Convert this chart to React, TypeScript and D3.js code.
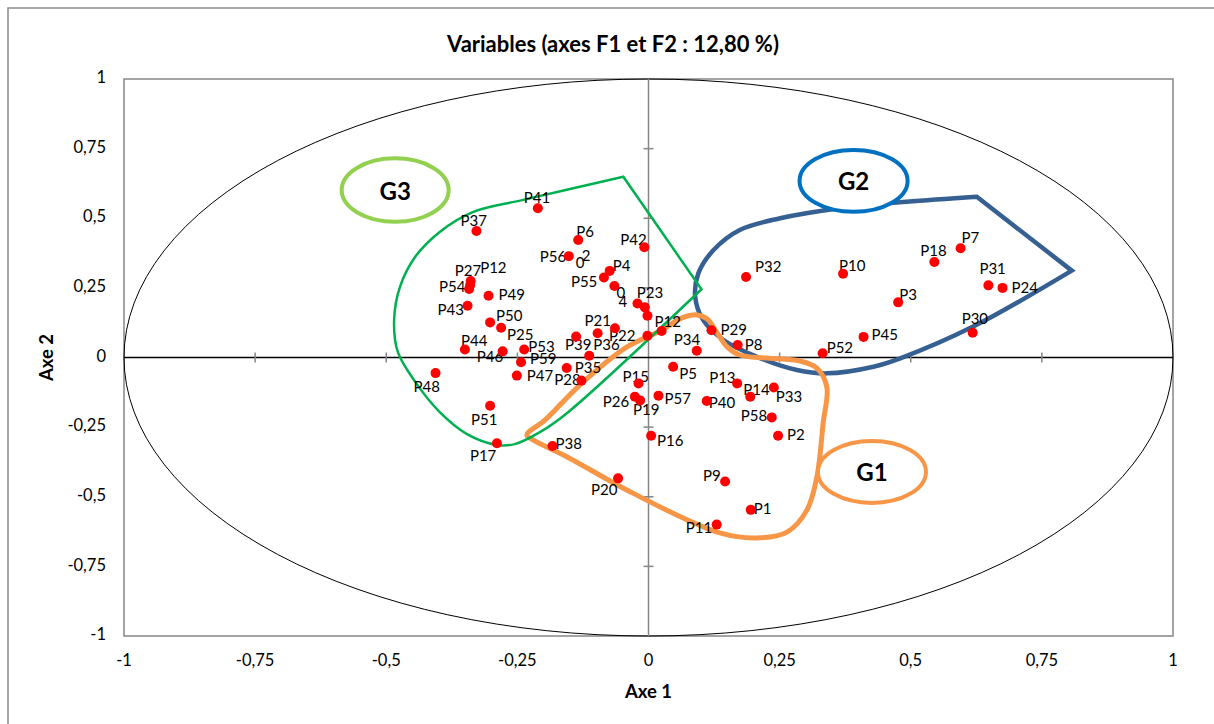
import React from "react";
import * as d3 from "d3";

// ---------- DATA ----------
const pointIds = [
  "P1","P2","P3","P4","P5","P6","P7","P8","P9","P10",
  "P11","P12a","P13","P14","P15","P16","P17","P18","P19","P20",
  "P21","P22","P23","P24","P25","P26","P27","P28","P29","P30",
  "P31","P32","P33","P34","P35","P36","P37","P38","P39","P40",
  "P41","P42","P43","P44","P45","P46","P47","P48","P49","P50",
  "P51","P52","P53","P54","P55","P56","P57","P58","P59",
  "X1","X2","X3","X4","P12b",
];
const pointLabels = [
  "P1","P2","P3","P4","P5","P6","P7","P8","P9","P10",
  "P11","P12","P13","P14","P15","P16","P17","P18","P19","P20",
  "P21","P22","P23","P24","P25","P26","P27","P28","P29","P30",
  "P31","P32","P33","P34","P35","P36","P37","P38","P39","P40",
  "P41","P42","P43","P44","P45","P46","P47","P48","P49","P50",
  "P51","P52","P53","P54","P55","P56","P57","P58","P59",
  "","","","","P12",
];
const f1Values = [
  0.195, 0.247, 0.476, -0.074, 0.047, -0.134, 0.595, 0.170, 0.146, 0.371,
  0.130, -0.340, 0.169, 0.194, -0.019, 0.005, -0.289, 0.545, -0.016, -0.058,
  -0.097, -0.064, -0.007, 0.675, -0.281, -0.026, -0.339, -0.128, 0.120, 0.618,
  0.648, 0.186, 0.239, 0.092, -0.156, -0.113, -0.328, -0.183, -0.138, 0.111,
  -0.211, -0.008, -0.345, -0.350, 0.410, -0.278, -0.251, -0.406, -0.305, -0.302,
  -0.302, 0.332, -0.237, -0.342, -0.085, -0.152, 0.019, 0.235, -0.243,
  -0.065, -0.021, -0.002, -0.002, 0.025,
];
const f2Values = [
  -0.547, -0.281, 0.198, 0.311, -0.033, 0.422, 0.392, 0.045, -0.445, 0.301,
  -0.600, 0.260, -0.093, -0.141, -0.093, -0.281, -0.308, 0.343, -0.154, -0.434,
  0.087, 0.105, 0.180, 0.250, 0.107, -0.141, 0.275, -0.083, 0.098, 0.089,
  0.259, 0.289, -0.108, 0.024, -0.038, 0.006, 0.454, -0.318, 0.075, -0.156,
  0.536, 0.396, 0.186, 0.029, 0.074, 0.022, -0.065, -0.056, 0.222, 0.126,
  -0.173, 0.015, 0.029, 0.246, 0.287, 0.364, -0.137, -0.215, -0.017,
  0.257, 0.194, 0.150, 0.078, 0.095,
];
// stray partial labels visible in the picture (text, anchor point id)
const fragmentTexts = ["2", "0", "0", "4"];
const fragmentAnchors = ["P56", "P56", "X1", "X1"];

const tickValues = [-1, -0.75, -0.5, -0.25, 0, 0.25, 0.5, 0.75, 1];
const chartTitle = "Variables (axes F1 et F2 : 12,80 %)";
const xTitle = "Axe 1";
const yTitle = "Axe 2";

// group outlines (in F1/F2 units)
const g1Outline: [number, number][] = [
  [-0.232, -0.278], [-0.197, -0.224], [-0.131, -0.099], [-0.041, 0.038], [0.022, 0.095],
  [0.064, 0.142], [0.092, 0.153], [0.112, 0.138], [0.131, 0.088], [0.150, 0.038],
  [0.174, 0.009], [0.226, -0.002], [0.289, -0.013], [0.321, -0.038], [0.340, -0.106],
  [0.333, -0.235], [0.321, -0.429], [0.302, -0.548], [0.264, -0.627], [0.207, -0.648],
  [0.136, -0.630], [-0.030, -0.487], [-0.155, -0.357], [-0.220, -0.296],
];
const g2Outline: [number, number][] = [
  [0.807, 0.312], [0.619, 0.111], [0.480, -0.003], [0.429, -0.033], [0.340, -0.057],
  [0.283, -0.045], [0.206, 0.003], [0.143, 0.063], [0.104, 0.135], [0.089, 0.218],
  [0.095, 0.302], [0.124, 0.386], [0.174, 0.458], [0.251, 0.500], [0.365, 0.536],
  [0.492, 0.559], [0.626, 0.577],
];
const g3Outline: [number, number][] = [
  [-0.048, 0.649], [-0.239, 0.566], [-0.335, 0.522], [-0.398, 0.451], [-0.445, 0.361],
  [-0.474, 0.253], [-0.485, 0.135], [-0.478, 0.020], [-0.443, -0.092], [-0.398, -0.196],
  [-0.346, -0.275], [-0.289, -0.314], [-0.255, -0.311], [-0.207, -0.268], [-0.155, -0.199],
  [0.101, 0.245],
];
const groupNames = ["G1", "G2", "G3"];
const groupBadgeCenters: [number, number][] = [[0.426, -0.411], [0.391, 0.634], [-0.483, 0.601]];
const groupBadgeRadii: [number, number][] = [[0.103, 0.111], [0.103, 0.111], [0.102, 0.114]];

// ---------- LAYOUT (label offsets in px: text start dx, baseline dy) ----------
const labelOffsets: Record<string, [number, number]> = {
  P1: [3, 4], P2: [9, 4], P3: [1, -2], P4: [3, 0], P5: [6, 12], P6: [-2, -3],
  P7: [1, -5], P8: [7, 5], P9: [-22, 0], P10: [-4, -3], P11: [-31, 8], P12a: [10, -12],
  P13: [-28, 0], P14: [-7, -2], P15: [-16, -1], P16: [6, 10], P17: [-27, 18], P18: [-14, -6],
  P19: [-7, 15], P20: [-27, 17], P21: [-13, -7], P22: [-6, 13], P23: [-8, -9], P24: [9, 5],
  P25: [6, 12], P26: [-32, 10], P27: [-16, -5], P28: [-27, 4], P29: [9, 5], P30: [-11, -9],
  P31: [-9, -11], P32: [9, -5], P33: [2, 14], P34: [-23, -6], P35: [8, 5], P36: [4, -6],
  P37: [-16, -5], P38: [3, 3], P39: [-11, 13], P40: [2, 7], P41: [-14, -5], P42: [-24, -2],
  P43: [-30, 9], P44: [-4, -3], P45: [8, 3], P46: [-26, 11], P47: [10, 5], P48: [-22, 19],
  P49: [10, 4], P50: [6, -1], P51: [-19, 19], P52: [4, 0], P53: [4, 3], P54: [-30, 3],
  P55: [-33, 9], P56: [-29, 6], P57: [6, 8], P58: [-31, 4], P59: [9, 2], P12b: [-7, -4],
};
const fragmentOffsets: [number, number][] = [[13, 5], [7, 12], [2, 12], [4, 21]];

const W = 1214;
const H = 724;
const PL = 124, PR = 1173, PT = 79, PB = 636;
const FONT = "Lato, 'Open Sans', sans-serif";

export default function App() {
  const x = d3.scaleLinear().domain([-1, 1]).range([PL, PR]);
  const y = d3.scaleLinear().domain([-1, 1]).range([PB, PT]);

  const toPx = (pts: [number, number][]) => pts.map(([a, b]) => [x(a), y(b)] as [number, number]);
  const closedCurve = d3.line().curve(d3.curveCatmullRomClosed.alpha(0.5));
  const openCurve = d3.line().curve(d3.curveCatmullRom.alpha(0.5));

  const g1Path = closedCurve(toPx(g1Outline)) || "";
  const g2Path = (openCurve(toPx(g2Outline)) || "") + " Z";
  const g3Path = (openCurve(toPx(g3Outline)) || "") + " Z";

  const fmt = (v: number) => String(v).replace(".", ",");
  const idIndex = (id: string) => pointIds.indexOf(id);

  const tickCol = "#868686";
  const badgeColors = ["#F79646", "#0070C0", "#92D050"];

  return (
    <svg
      width={W}
      height={H}
      style={{ position: "absolute", left: 0, top: 0, display: "block", background: "#fff" }}
      fontFamily={FONT}
    >
      <rect x={8} y={8} width={W + 20} height={H + 20} fill="#fff" stroke="#8c8c8c" strokeWidth={1.5} />
      <text x={613} y={52} textAnchor="middle" fontWeight="bold" fontSize={22} fill="#000">
        {chartTitle}
      </text>

      {/* plot area */}
      <rect x={PL} y={PT} width={PR - PL} height={PB - PT} fill="#fff" stroke="#868686" strokeWidth={1.5} />

      {/* correlation circle */}
      <ellipse cx={x(0)} cy={y(0)} rx={x(1) - x(0)} ry={y(0) - y(1)} fill="none" stroke="#000" strokeWidth={1} />

      {/* axes through origin */}
      <line x1={x(0)} x2={x(0)} y1={PT} y2={PB} stroke={tickCol} strokeWidth={1.5} />
      <line x1={PL} x2={PR} y1={y(0)} y2={y(0)} stroke="#000" strokeWidth={1.5} />
      {tickValues.filter((v) => v !== 0 && Math.abs(v) !== 1).map((v) => (
        <g key={"t" + v}>
          <line x1={x(v)} x2={x(v)} y1={y(0) - 5} y2={y(0) + 5} stroke={tickCol} strokeWidth={1.5} />
          <line x1={x(0) - 5} x2={x(0) + 5} y1={y(v)} y2={y(v)} stroke={tickCol} strokeWidth={1.5} />
        </g>
      ))}

      {/* tick labels */}
      {tickValues.map((v) => (
        <text key={"yl" + v} x={106} y={y(v)} textAnchor="end" dominantBaseline="middle" fontSize={16.5} fill="#000">
          {fmt(v)}
        </text>
      ))}
      {tickValues.map((v) => (
        <text key={"xl" + v} x={x(v)} y={666} textAnchor="middle" fontSize={16.5} fill="#000">
          {fmt(v)}
        </text>
      ))}

      <text x={x(0)} y={698} textAnchor="middle" fontWeight="bold" fontSize={18.5} fill="#000">{xTitle}</text>
      <text
        transform={`translate(53, ${y(0)}) rotate(-90)`}
        textAnchor="middle"
        fontWeight="bold"
        fontSize={18.5}
        fill="#000"
      >
        {yTitle}
      </text>

      {/* group outlines */}
      <path d={g2Path} fill="none" stroke="#376092" strokeWidth={4.5} strokeLinejoin="miter" />
      <path d={g1Path} fill="none" stroke="#F79646" strokeWidth={5} />
      <path d={g3Path} fill="none" stroke="#00B050" strokeWidth={2.5} strokeLinejoin="miter" />

      {/* group badges */}
      {groupNames.map((g, i) => (
        <g key={g}>
          <ellipse
            cx={x(groupBadgeCenters[i][0])}
            cy={y(groupBadgeCenters[i][1])}
            rx={x(groupBadgeRadii[i][0]) - x(0)}
            ry={y(0) - y(groupBadgeRadii[i][1])}
            fill="#fff"
            stroke={badgeColors[i]}
            strokeWidth={4}
          />
          <text
            x={x(groupBadgeCenters[i][0])}
            y={y(groupBadgeCenters[i][1])}
            textAnchor="middle"
            dominantBaseline="central"
            fontWeight="bold"
            fontSize={24}
            fill="#000"
          >
            {g}
          </text>
        </g>
      ))}

      {/* labels */}
      {pointIds.map((id, i) => {
        const off = labelOffsets[id];
        if (!pointLabels[i] || !off) return null;
        return (
          <text key={"lab" + id} x={x(f1Values[i]) + off[0]} y={y(f2Values[i]) + off[1]} fontSize={15} fill="#000">
            {pointLabels[i]}
          </text>
        );
      })}
      {fragmentTexts.map((t, k) => {
        const i = idIndex(fragmentAnchors[k]);
        return (
          <text key={"fr" + k} x={x(f1Values[i]) + fragmentOffsets[k][0]} y={y(f2Values[i]) + fragmentOffsets[k][1]} fontSize={15} fill="#000">
            {t}
          </text>
        );
      })}

      {/* points */}
      {pointIds.map((id, i) => (
        <circle key={"pt" + id} cx={x(f1Values[i])} cy={y(f2Values[i])} r={5} fill="#FF0000" />
      ))}
    </svg>
  );
}
